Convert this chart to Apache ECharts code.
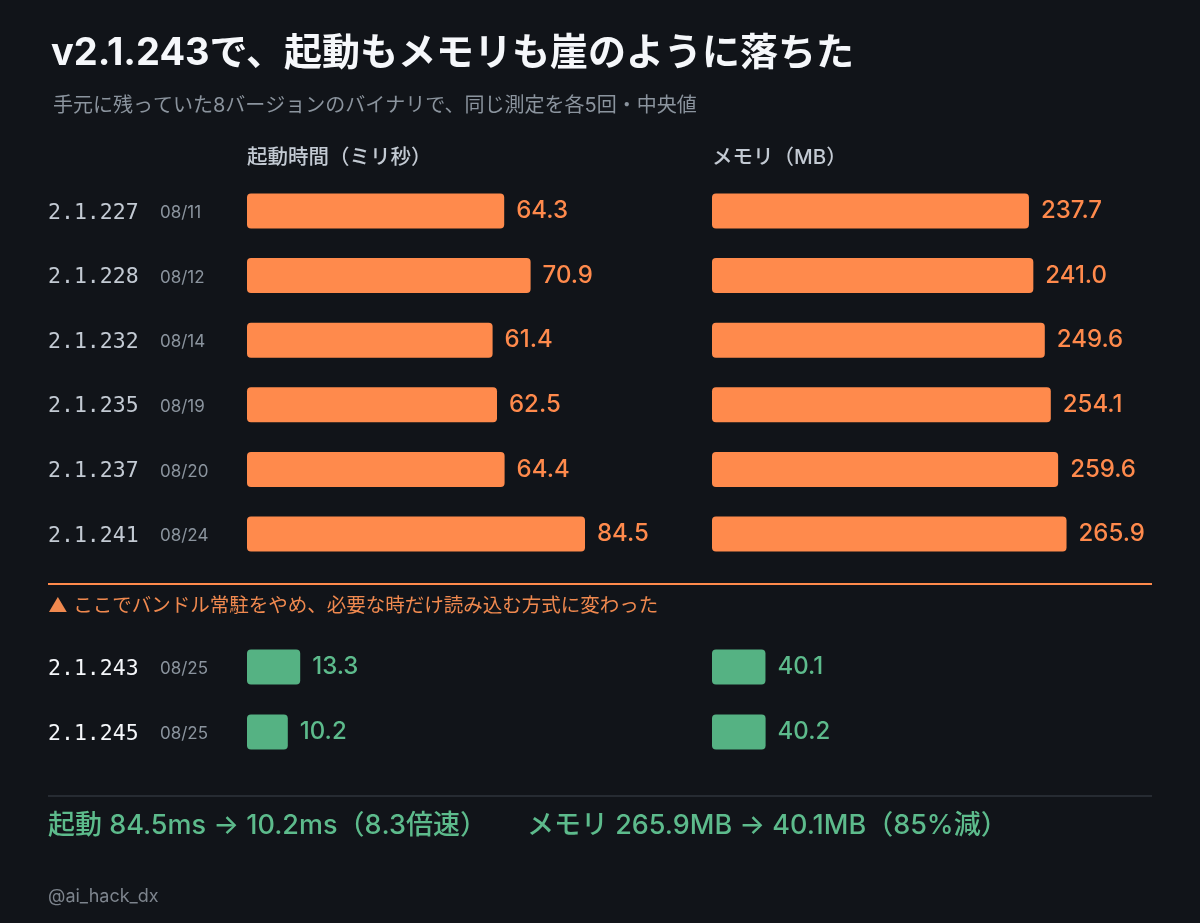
<!DOCTYPE html>
<html><head><meta charset="utf-8">
<script src="https://cdn.jsdelivr.net/npm/echarts@6/dist/echarts.min.js"></script>
<style>html,body{margin:0;padding:0;background:#111419;}#c{width:1200px;height:923px;}</style>
</head><body><div id="c"></div>
<script>
const versionsBefore = ['2.1.227','2.1.228','2.1.232','2.1.235','2.1.237','2.1.241'];
const datesBefore = ['08/11','08/12','08/14','08/19','08/20','08/24'];
const startupBefore = [64.3,70.9,61.4,62.5,64.4,84.5];
const memoryBefore = [237.7,241.0,249.6,254.1,259.6,265.9];
const versionsAfter = ['2.1.243','2.1.245'];
const datesAfter = ['08/25','08/25'];
const startupAfter = [13.3,10.2];
const memoryAfter = [40.1,40.2];

const FONT = 'Inter,"Noto Sans CJK JP","Noto Sans",sans-serif';
const ORANGE = '#ff8a4c';
const GREEN = '#55b283';
const GREEN_TXT = '#5dbb8c';
const BG = '#111419';

const chart = echarts.init(document.getElementById('c'), null, {renderer:'canvas'});

function yAxis(gridIndex, versions, dates, showLabels, verColor){
  return {
    type:'category', gridIndex, inverse:true,
    data: versions.map((v,i)=>v+'|'+dates[i]),
    axisLine:{show:false}, axisTick:{show:false}, splitLine:{show:false},
    axisLabel:{
      show: showLabels, align:'left', margin:199, verticalAlign:'middle',
      formatter: s => { const p = s.split('|'); return '{v|'+p[0]+'}{d|'+p[1]+'}'; },
      rich:{
        v:{fontFamily:'"DejaVu Sans Mono",monospace', fontSize:21.5, color:verColor, width:112, padding:[4,0,0,0]},
        d:{fontFamily:FONT, fontSize:17, color:'#8b949e', padding:[4,0,0,0]}
      }
    }
  };
}
function xAxis(gridIndex, max){
  return {type:'value', gridIndex, min:0, max, show:false, splitLine:{show:false}};
}
function bars(xi, yi, data, color, txt){
  return {
    type:'bar', xAxisIndex:xi, yAxisIndex:yi, data, barWidth:35,
    itemStyle:{color, borderRadius:4},
    label:{show:true, position:'right', distance:12, color:txt, fontFamily:FONT, fontSize:24, fontWeight:500,
      formatter: p => p.value.toFixed(1)},
    silent:true, animation:false
  };
}

const topTop = 178.7, topH = 387.6, botTop = 634.5, botH = 130;

chart.setOption({
  backgroundColor: BG,
  animation:false,
  title:[
    {text:'v2.1.243で、起動もメモリも崖のように落ちた', left:46, top:30,
     textStyle:{color:'#f5f7fa', fontFamily:FONT, fontSize:38, fontWeight:'bold'}},
    {text:'手元に残っていた8バージョンのバイナリで、同じ測定を各5回・中央値', left:48, top:91,
     textStyle:{color:'#8b949e', fontFamily:FONT, fontSize:20, fontWeight:'normal'}}
  ],
  grid:[
    {left:247, width:400, top:topTop, height:topH},
    {left:712, width:400, top:topTop, height:topH},
    {left:247, width:400, top:botTop, height:botH},
    {left:712, width:400, top:botTop, height:botH}
  ],
  xAxis:[xAxis(0,100), xAxis(1,300), xAxis(2,100), xAxis(3,300)],
  yAxis:[
    yAxis(0, versionsBefore, datesBefore, true, '#c3cad3'),
    yAxis(1, versionsBefore, datesBefore, false, '#c3cad3'),
    yAxis(2, versionsAfter, datesAfter, true, '#f5f7fa'),
    yAxis(3, versionsAfter, datesAfter, false, '#f5f7fa')
  ],
  series:[
    bars(0,0,startupBefore,ORANGE,ORANGE),
    bars(1,1,memoryBefore,ORANGE,ORANGE),
    bars(2,2,startupAfter,GREEN,GREEN_TXT),
    bars(3,3,memoryAfter,GREEN,GREEN_TXT)
  ],
  graphic:[
    {type:'text', left:247, top:148, style:{text:'起動時間（ミリ秒）', fill:'#c3cad3', font:'500 20.5px '+FONT}},
    {type:'text', left:712, top:148, style:{text:'メモリ（MB）', fill:'#c3cad3', font:'500 20.5px '+FONT}},
    {type:'line', shape:{x1:48, y1:584, x2:1152, y2:584}, style:{stroke:ORANGE, lineWidth:2}},
    {type:'text', left:48, top:596, style:{text:'▲ ここでバンドル常駐をやめ、必要な時だけ読み込む方式に変わった', fill:'#f0894f', font:'19.5px '+FONT}},
    {type:'line', shape:{x1:48, y1:796, x2:1152, y2:796}, style:{stroke:'#2e333b', lineWidth:1.5}},
    {type:'text', left:48, top:812, style:{text:'起動 84.5ms → 10.2ms（8.3倍速）', fill:GREEN_TXT, font:'500 27px '+FONT}},
    {type:'text', left:527, top:812, style:{text:'メモリ 265.9MB → 40.1MB（85%減）', fill:GREEN_TXT, font:'500 27px '+FONT}},
    {type:'text', left:48, top:888, style:{text:'@ai_hack_dx', fill:'#7d848d', font:'18px '+FONT}}
  ]
});
</script></body></html>
